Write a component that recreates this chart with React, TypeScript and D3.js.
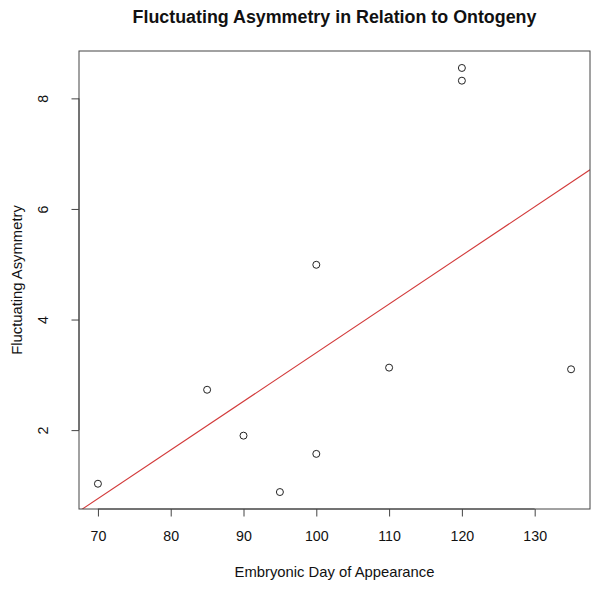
import * as d3 from "d3";
import { useRef, useEffect } from "react";

// embryonic day of appearance (x) and fluctuating asymmetry (y)
const days = [70, 85, 90, 95, 100, 100, 110, 120, 120, 135];
const asymmetry = [1.03, 2.73, 1.9, 0.88, 4.99, 1.57, 3.13, 8.55, 8.32, 3.1];
const xTicks = [70, 80, 90, 100, 110, 120, 130];
const yTicks = [2, 4, 6, 8];

const W = 600;
const H = 591;
const FONT = "'Liberation Sans', Arial, Helvetica, sans-serif";

export default function App() {
  const svgRef = useRef<SVGSVGElement>(null);

  useEffect(() => {
    const svg = d3.select(svgRef.current);
    svg.selectAll("*").remove();

    // plot box edges
    const left = 79, right = 590, top = 51, bottom = 509;

    // R style 4% padding on both scales
    const xExt = d3.extent(days) as [number, number];
    const yExt = d3.extent(asymmetry) as [number, number];
    const xPad = (xExt[1] - xExt[0]) * 0.04;
    const yPad = (yExt[1] - yExt[0]) * 0.04;
    const x = d3.scaleLinear().domain([xExt[0] - xPad, xExt[1] + xPad]).range([left, right]);
    const y = d3.scaleLinear().domain([yExt[0] - yPad, yExt[1] + yPad]).range([bottom, top]);

    // least squares fit for the red line
    const mx = d3.mean(days)!;
    const my = d3.mean(asymmetry)!;
    const sxy = d3.sum(days, (d, i) => (d - mx) * (asymmetry[i] - my));
    const sxx = d3.sum(days, d => (d - mx) ** 2);
    const slope = sxy / sxx;
    const intercept = my - slope * mx;

    svg.append("defs").append("clipPath").attr("id", "plotclip")
      .append("rect").attr("x", left).attr("y", top).attr("width", right - left).attr("height", bottom - top);

    const [x0, x1] = x.domain();
    svg.append("line")
      .attr("clip-path", "url(#plotclip)")
      .attr("x1", x(x0)).attr("y1", y(intercept + slope * x0))
      .attr("x2", x(x1)).attr("y2", y(intercept + slope * x1))
      .attr("stroke", "#d23a3a").attr("stroke-width", 1.1);

    // points
    svg.append("g").selectAll("circle").data(days).enter().append("circle")
      .attr("cx", d => x(d)).attr("cy", (d, i) => y(asymmetry[i]))
      .attr("r", 3.5).attr("fill", "none").attr("stroke", "#222").attr("stroke-width", 1);

    // box
    svg.append("rect").attr("x", left).attr("y", top).attr("width", right - left).attr("height", bottom - top)
      .attr("fill", "none").attr("stroke", "#444").attr("stroke-width", 1);

    // x axis
    const gx = svg.append("g").attr("transform", `translate(0,${bottom})`)
      .call(d3.axisBottom(x).tickValues(xTicks).tickSize(7.5).tickPadding(7).tickSizeOuter(0));
    gx.select(".domain").attr("d", `M${x(xTicks[0])},0H${x(xTicks[xTicks.length - 1])}`).attr("stroke", "#444");
    gx.selectAll(".tick line").attr("stroke", "#444");
    gx.selectAll(".tick text").attr("font-family", FONT).attr("font-size", 14.2).attr("fill", "#111").attr("y", 32).attr("dy", null);

    // y axis with rotated labels
    const gy = svg.append("g").attr("transform", `translate(${left},0)`)
      .call(d3.axisLeft(y).tickValues(yTicks).tickSize(7.5).tickSizeOuter(0));
    gy.select(".domain").attr("d", `M0,${y(yTicks[0])}V${y(yTicks[yTicks.length - 1])}`).attr("stroke", "#444");
    gy.selectAll(".tick line").attr("stroke", "#444");
    gy.selectAll(".tick text")
      .attr("x", null).attr("dy", null)
      .attr("transform", "translate(-31,0) rotate(-90)")
      .attr("text-anchor", "middle")
      .attr("font-family", FONT).attr("font-size", 14.2).attr("fill", "#111");

    // title
    svg.append("text").attr("x", (left + right) / 2).attr("y", 23).attr("text-anchor", "middle")
      .attr("font-family", FONT).attr("font-size", 17.85).attr("font-weight", "bold").attr("fill", "#111")
      .text("Fluctuating Asymmetry in Relation to Ontogeny");

    // axis labels
    svg.append("text").attr("x", (left + right) / 2).attr("y", 577).attr("text-anchor", "middle")
      .attr("font-family", FONT).attr("font-size", 14.8).attr("fill", "#111")
      .text("Embryonic Day of Appearance");
    svg.append("text").attr("transform", `translate(22,${(top + bottom) / 2}) rotate(-90)`).attr("text-anchor", "middle")
      .attr("font-family", FONT).attr("font-size", 14.8).attr("fill", "#111")
      .text("Fluctuating Asymmetry");
  }, []);

  return (
    <svg ref={svgRef} width={W} height={H}
      style={{ position: "absolute", left: 0, top: 0, background: "#fff", display: "block" }} />
  );
}
